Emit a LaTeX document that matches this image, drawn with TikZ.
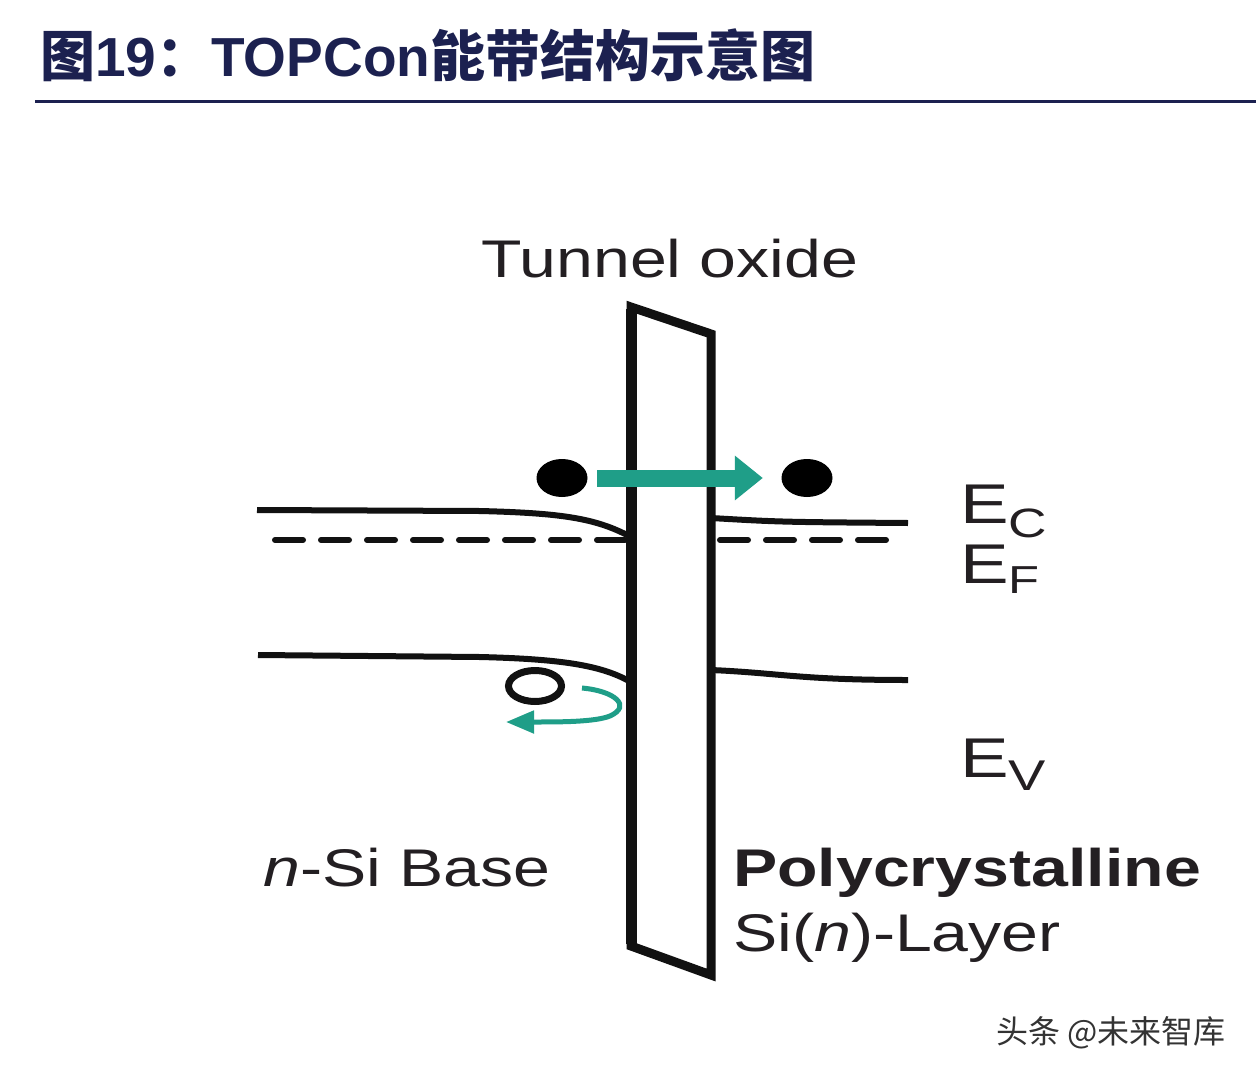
\documentclass[tikz,border=0pt]{standalone}
\usepackage{fontspec}
\setmainfont{Liberation Sans}
\newfontfamily\cjk{Noto Sans CJK SC}
\usetikzlibrary{shapes.geometric,arrows.meta}
\definecolor{navy}{HTML}{1C2150}
\definecolor{tealc}{HTML}{1F9E88}
\definecolor{txt}{HTML}{231F22}
\definecolor{band}{HTML}{111111}
\newcommand\myw[1]{\scalebox{1.25}[1]{#1}}
\newcommand\mye[1]{\scalebox{1.3}[1]{#1}}
\begin{document}
\begin{tikzpicture}[x=1pt,y=-1pt,
  bandline/.style={line width=6pt, draw=band},
  fermi/.style={line width=6pt, draw=band, dash pattern=on 28pt off 18pt, line cap=round},
  lab/.style={inner sep=0pt, text=txt, font=\fontsize{53}{60}\selectfont},
  elab/.style={inner sep=0pt, text=txt, font=\fontsize{56}{60}\selectfont, anchor=base west},
  electron/.style={ellipse, fill=black, minimum width=51pt, minimum height=38pt, inner sep=0pt},
  hole/.style={ellipse, draw=band, line width=7pt, minimum width=53pt, minimum height=31pt, inner sep=0pt}]
\fill[white] (0,0) rectangle (1256,1076);
\useasboundingbox (0,0) rectangle (1256,1076);

% title
\node[anchor=base west, inner sep=0pt, text=navy, font=\bfseries\fontsize{55}{60}\selectfont] (title) at (40,76)
  {{\cjk 图}19{\cjk ：}TOPCon{\cjk 能带结构示意图}};
\draw[navy, line width=3pt] (35,101) -- (1256,101);

% bands
\draw[bandline] (257,510) -- (480,511) .. controls (560,513) and (595,518) .. (629,536);
\draw[bandline] (258,655) -- (480,657) .. controls (560,659) and (600,665) .. (629,681);
\draw[bandline] (711,518) .. controls (780,522) .. (908,523);
\draw[bandline] (711,670) .. controls (780,673) and (800,680) .. (908,680);
\draw[fermi] (275,540) -- (627,540);
\draw[fermi] (720,540) -- (892,540);

% hole and reflected arrow
\node[hole] (h) at (535,686) {};
\coordinate (cs) at (582,688);
\coordinate (ce) at (506,722);
\draw[tealc, line width=5pt, -{Triangle[length=28pt 0 0, width=22pt 0 0]}]
  (cs) .. controls (615,691) and (632,706) .. (610,716) .. controls (595,722) and (560,722) .. (ce);

% barrier
\filldraw[fill=white, draw=band, line width=9pt, line join=miter] (631,307) -- (711,334) -- (711,975) -- (631,946) -- cycle;
\draw[band, line width=11pt] (631,309) -- (631,944);

% electrons and tunnelling arrow
\node[electron] (e1) at (562,478) {};
\node[electron] (e2) at (807,478) {};
\draw[tealc, line width=17pt, -{Triangle[length=28pt 0 0, width=43pt 0 0]}, shorten <=9.5pt, shorten >=18.5pt] (e1) -- (e2);

% labels
\node[lab, anchor=base] (tox) at (670,277) {\myw{Tunnel oxide}};
\node[lab, anchor=base west] (nsi) at (263,886) {\myw{\textit{n}-Si Base}};
\node[lab, anchor=base west, font=\bfseries\fontsize{53}{60}\selectfont] (poly) at (733,886) {\myw{Polycrystalline}};
\node[lab, anchor=base west] (layer) at (733,951) {\myw{Si(\textit{n})-Layer}};

\node[elab] (ec) at (960,523) {\mye{E\raisebox{-14pt}{\fontsize{41}{41}\selectfont C}}};
\node[elab] (ef) at (960,583) {\mye{E\raisebox{-10pt}{\fontsize{39}{39}\selectfont F}}};
\node[elab] (ev) at (960,777) {\mye{E\raisebox{-13pt}{\fontsize{43}{43}\selectfont V}}};

% watermark
\node[anchor=base west, inner sep=0pt, text=black!80, font=\cjk\fontsize{32}{32}\selectfont] (wm) at (996,1043) {头条 @未来智库};
\end{tikzpicture}
\end{document}
